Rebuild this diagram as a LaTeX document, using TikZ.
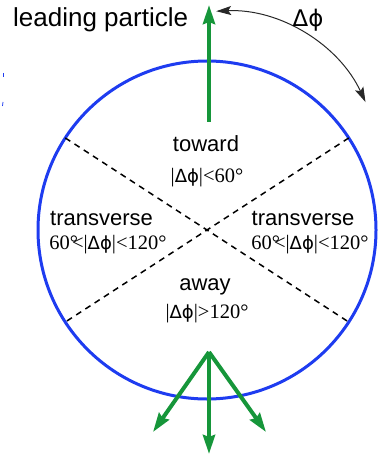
\documentclass[tikz,border=0pt]{standalone}
\usepackage{fontspec}
\setmainfont{Liberation Serif}
\newfontfamily\sansf{Liberation Sans}
\newfontfamily\phifont[Scale=0.88]{DejaVu Sans}
\usetikzlibrary{arrows.meta}
\definecolor{ringblue}{RGB}{30,60,240}
\definecolor{trackgreen}{RGB}{22,150,58}
\definecolor{arcgray}{RGB}{40,40,40}
\newcommand{\dphisym}{{\phifont Δϕ}}
\tikzset{
  ring/.style={circle, draw=ringblue, line width=3pt, inner sep=0pt, outer sep=0pt, minimum size=338pt},
  divider/.style={draw=black, line width=1.5pt, dash pattern=on 6pt off 5pt},
  track/.style={draw=trackgreen, line width=4pt, -{Stealth[length=19pt,width=12pt,inset=2pt]}},
  dphiarrow/.style={draw=arcgray, line width=1pt, {Stealth[length=15pt,width=9pt,inset=3pt]}-{Stealth[length=15pt,width=9pt,inset=3pt]}},
  word/.style={font=\sansf\fontsize{22}{22}\selectfont, inner sep=0pt, anchor=base},
  formula/.style={font=\fontsize{20.5}{20.5}\selectfont, inner sep=0pt, anchor=base},
  big/.style={font=\sansf\fontsize{26}{26}\selectfont, inner sep=0pt, anchor=base}
}
\begin{document}
\begin{tikzpicture}[x=1pt,y=-1pt]
\useasboundingbox (0,0) rectangle (377,457);
\node[ring] (circ) at (207,230) {};
\draw[divider] (circ.147) -- (circ.-33);
\draw[divider] (circ.33) -- (circ.213);
% leading particle
\coordinate (lpbase) at (209,122);
\coordinate (lptip) at (209,5);
\draw[track] (lpbase) -- (lptip);
% away side
\coordinate (awo) at (209,352);
\coordinate (awl) at (153,432);
\coordinate (awm) at (209,454);
\coordinate (awr) at (266,432);
\draw[track] (awo) -- (awl);
\draw[track] (awo) -- (awm);
\draw[track] (awo) -- (awr);
% delta phi arc
\coordinate (arcs) at (216.2,11.2);
\coordinate (arce) at (365.5,102.1);
\draw[dphiarrow] (arcs) .. controls (279.7,8.4) and (338.8,44.4) .. (arce);
\node[big, anchor=base west] (lp) at (13,27) {leading particle};
\node[big] (dphi) at (308,27) {\dphisym};
\node[word] (tw) at (206,152) {toward};
\node[formula] (twf) at (207,182) {|\dphisym|<60°};
\node[word] (tl) at (101.5,225) {transverse};
\node[formula] (tlf) at (108,249) {60°\kern-0.3em<|\dphisym|<120°};
\node[word] (tr) at (303,225) {transverse};
\node[formula] (trf) at (310,249) {60°\kern-0.3em<|\dphisym|<120°};
\node[word] (aw) at (205,290) {away};
\node[formula] (awf) at (207,318) {|\dphisym|>120°};
% specks
\draw[ringblue, line width=0.8pt] (3,73) -- (3,77);
\draw[ringblue, line width=0.8pt] (3,102) -- (2.5,106);
\end{tikzpicture}
\end{document}
